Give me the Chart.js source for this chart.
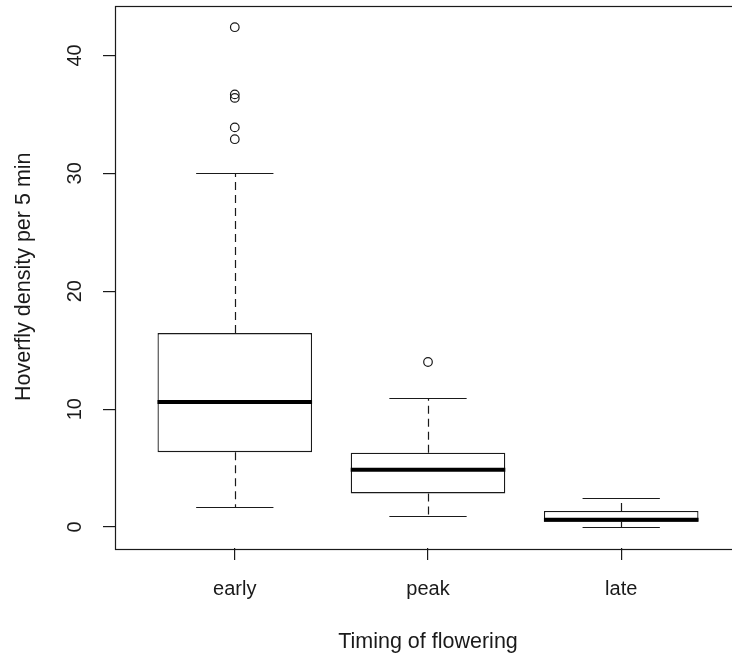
<!DOCTYPE html>
<html>
<head>
<meta charset="utf-8">
<script src="https://cdn.jsdelivr.net/npm/chart.js@4/dist/chart.umd.min.js"></script>
<style>
html,body{margin:0;padding:0;background:#fff;overflow:hidden;}
#wrap{width:750px;height:658px;}
</style>
</head>
<body>
<div id="wrap"><canvas id="c" width="750" height="658"></canvas></div>
<script>
// ---- data ----
const categories = ['early', 'peak', 'late'];
const lowerWhisker = [1.7, 0.95, 0.0];
const q1 = [6.35, 2.85, 0.45];
const median = [10.6, 4.85, 0.62];
const q3 = [16.45, 6.3, 1.36];
const upperWhisker = [30.0, 10.95, 2.45];
const outliersEarly = [42.4, 36.7, 36.4, 33.9, 32.9];
const outliersPeak = [14.0];
const outliersLate = [];
const yTicks = [0, 10, 20, 30, 40];

const outlierGroups = [outliersEarly, outliersPeak, outliersLate];
const boxData = categories.map((c, i) => ({x: i + 1, y: [q1[i], q3[i]]}));
const outlierData = [];
outlierGroups.forEach((g, i) => g.forEach(v => outlierData.push({x: i + 1, y: v})));

const FONT = 'Liberation Sans, Arial, sans-serif';
const INK = '#1a1a1a';

const boxExtras = {
  id: 'boxExtras',
  afterDatasetsDraw(chart) {
    const ctx = chart.ctx, xs = chart.scales.x, ys = chart.scales.y;
    ctx.save();
    ctx.strokeStyle = INK;
    categories.forEach((c, i) => {
      const cx = Math.round(xs.getPixelForValue(i + 1)) + 0.5;
      const capL = xs.getPixelForValue(i + 1 - 0.2), capR = xs.getPixelForValue(i + 1 + 0.2);
      const bL = xs.getPixelForValue(i + 1 - 0.4), bR = xs.getPixelForValue(i + 1 + 0.4);
      ctx.lineWidth = 1.2;
      ctx.setLineDash([8, 5]);
      ctx.beginPath();
      ctx.moveTo(cx, ys.getPixelForValue(q3[i]));
      ctx.lineTo(cx, ys.getPixelForValue(upperWhisker[i]));
      ctx.moveTo(cx, ys.getPixelForValue(q1[i]));
      ctx.lineTo(cx, ys.getPixelForValue(lowerWhisker[i]));
      ctx.stroke();
      ctx.setLineDash([]);
      ctx.beginPath();
      const yu = Math.round(ys.getPixelForValue(upperWhisker[i])) + 0.5;
      const yl = Math.round(ys.getPixelForValue(lowerWhisker[i])) + 0.5;
      ctx.moveTo(capL, yu); ctx.lineTo(capR, yu);
      ctx.moveTo(capL, yl); ctx.lineTo(capR, yl);
      ctx.stroke();
      ctx.lineWidth = 4;
      ctx.strokeStyle = '#000';
      ctx.beginPath();
      const ym = ys.getPixelForValue(median[i]);
      ctx.moveTo(bL, ym); ctx.lineTo(bR, ym);
      ctx.stroke();
      ctx.strokeStyle = INK;
    });
    ctx.restore();
  },
  afterDraw(chart) {
    const ctx = chart.ctx, a = chart.chartArea, ys = chart.scales.y;
    ctx.save();
    ctx.strokeStyle = INK;
    ctx.lineWidth = 1.2;
    ctx.strokeRect(Math.round(a.left) + 0.5, Math.round(a.top) + 0.5,
                   Math.round(a.right - a.left), Math.round(a.bottom - a.top));
    ctx.fillStyle = INK;
    ctx.font = '20px ' + FONT;
    ctx.textAlign = 'center';
    ctx.textBaseline = 'middle';
    yTicks.forEach(v => {
      const py = ys.getPixelForValue(v);
      ctx.save();
      ctx.translate(75, py);
      ctx.rotate(-Math.PI / 2);
      ctx.fillText(String(v), 0, 0);
      ctx.restore();
    });
    ctx.restore();
  }
};

new Chart(document.getElementById('c'), {
  data: {
    datasets: [
      {
        type: 'bar',
        data: boxData,
        backgroundColor: '#ffffff',
        borderColor: INK,
        borderWidth: 1.3,
        borderSkipped: false,
        categoryPercentage: 0.8,
        barPercentage: 1.0,
        order: 2
      },
      {
        type: 'scatter',
        data: outlierData,
        pointStyle: 'circle',
        pointRadius: 4.3,
        pointBackgroundColor: 'rgba(255,255,255,0)',
        pointBorderColor: INK,
        pointBorderWidth: 1.2,
        order: 1
      }
    ]
  },
  options: {
    responsive: false,
    animation: false,
    layout: {padding: {left: 0, top: 5, right: 9, bottom: 0}},
    plugins: {legend: {display: false}, tooltip: {enabled: false}},
    scales: {
      x: {
        type: 'linear',
        offset: false,
        min: 0.38, max: 3.62,
        afterBuildTicks: s => { s.ticks = categories.map((c, i) => ({value: i + 1})); },
        afterFit: s => { s.height = 110; },
        grid: {offset: false, drawOnChartArea: false, drawTicks: true, tickLength: 12, color: INK, lineWidth: 1.2},
        border: {display: false},
        ticks: {
          autoSkip: false, maxRotation: 0, minRotation: 0,
          padding: 17,
          color: INK,
          font: {family: FONT, size: 20},
          callback: v => categories[Math.round(v) - 1]
        },
        title: {display: true, text: 'Timing of flowering', color: INK,
                font: {family: FONT, size: 21.5}, padding: {top: 0, bottom: 3}}
      },
      y: {
        type: 'linear',
        min: -1.78, max: 44.24,
        afterBuildTicks: s => { s.ticks = yTicks.map(v => ({value: v})); },
        afterFit: s => { s.width = 115; },
        grid: {drawOnChartArea: false, drawTicks: true, tickLength: 12, color: INK, lineWidth: 1.2},
        border: {display: false},
        ticks: {display: false},
        title: {display: true, text: 'Hoverfly density per 5 min', color: INK,
                font: {family: FONT, size: 21.5}, padding: {top: 11, bottom: 0}}
      }
    }
  },
  plugins: [boxExtras]
});
</script>
</body>
</html>
